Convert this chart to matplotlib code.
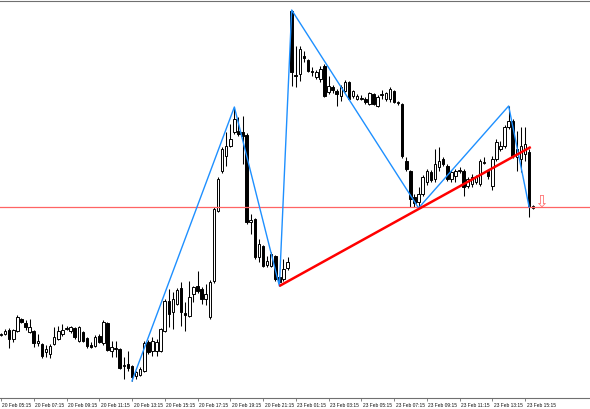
import matplotlib
matplotlib.use("Agg")
import matplotlib.pyplot as plt
import matplotlib.transforms as mtransforms
import numpy as np

# ---- data (prices in pips above 1.1000) ----
opens = [1164,1165,1169,1160,1168,1180,1176,1167,1168,1156,1155,1147,1145,1155,1160,1165,1170,1168,1171,1158,
         1167,1161,1154,1153,1163,1156,1176,1148,1150,1150,1133,1135,1133,1123,1124,1128,1157,1148,1148,1148,
         1168,1198,1187,1195,1211,1186,1183,1205,1213,1210,1200,1182,1218,1288,1328,1343,1353,1367,1368,1367,
         1364,1277,1280,1242,1253,1234,1233,1243,1222,1220,1231,1488,1424,1425,1443,1439,1428,1422,1420,1433,
         1407,1412,1408,1403,1408,1417,1403,1400,1400,1400,1395,1405,1393,1404,1400,1400,1408,1396,1395,1338,
         1328,1302,1297,1305,1317,1327,1320,1332,1340,1333,1320,1323,1328,1328,1313,1315,1317,1315,1336,1328,
         1313,1340,1350,1353,1372,1378,1342,1340,1345,1347,1291]
highs = [1166,1170,1171,1170,1184,1181,1179,1180,1169,1165,1156,1154,1155,1172,1173,1175,1173,1173,1172,1173,
         1168,1162,1157,1164,1165,1179,1177,1158,1158,1151,1142,1148,1134,1128,1132,1158,1159,1162,1160,1171,
         1200,1210,1207,1211,1217,1197,1218,1213,1228,1212,1215,1219,1292,1322,1352,1367,1375,1392,1382,1383,
         1366,1285,1281,1260,1254,1243,1247,1244,1223,1240,1242,1489,1453,1453,1448,1440,1432,1429,1433,1435,
         1423,1414,1410,1414,1419,1418,1409,1405,1404,1402,1407,1406,1404,1409,1407,1412,1409,1398,1396,1342,
         1329,1305,1312,1324,1330,1329,1350,1352,1342,1335,1329,1330,1332,1330,1322,1325,1324,1340,1342,1330,
         1343,1360,1358,1374,1393,1380,1368,1372,1372,1350,1294]
lows = [1163,1164,1151,1157,1167,1176,1169,1166,1152,1153,1141,1142,1141,1154,1159,1163,1169,1166,1160,1157,
        1157,1151,1151,1152,1156,1154,1148,1142,1142,1130,1120,1128,1118,1120,1123,1127,1145,1143,1143,1147,
        1167,1172,1170,1194,1173,1168,1182,1197,1206,1195,1194,1180,1216,1287,1326,1333,1352,1365,1363,1335,
        1275,1265,1240,1237,1232,1232,1232,1218,1213,1218,1229,1413,1412,1418,1437,1427,1423,1420,1417,1402,
        1405,1406,1393,1398,1407,1399,1401,1399,1399,1395,1394,1394,1392,1400,1398,1397,1396,1394,1341,1328,
        1292,1292,1291,1303,1314,1317,1317,1328,1333,1318,1317,1317,1326,1303,1311,1312,1315,1313,1335,1320,
        1309,1338,1348,1351,1370,1341,1328,1327,1338,1282,1290]
closes = [1165,1168,1160,1169,1182,1177,1172,1172,1156,1158,1143,1150,1153,1162,1168,1169,1171,1172,1162,1172,
          1158,1153,1152,1162,1157,1177,1149,1152,1151,1131,1134,1131,1122,1127,1130,1156,1147,1158,1157,1170,
          1198,1185,1200,1209,1187,1184,1202,1212,1208,1200,1205,1217,1290,1320,1350,1353,1360,1380,1365,1363,
          1277,1279,1242,1255,1233,1238,1245,1220,1217,1230,1237,1427,1423,1450,1441,1428,1427,1427,1430,1403,
          1413,1409,1405,1412,1417,1400,1408,1403,1401,1397,1406,1395,1402,1405,1406,1410,1397,1397,1343,1330,
          1300,1296,1305,1322,1328,1319,1335,1338,1335,1320,1327,1328,1329,1312,1320,1322,1322,1338,1337,1323,
          1340,1357,1353,1372,1378,1343,1350,1353,1355,1292,1293]

zigzag_bars = [32, 57, 68, 71, 102, 124, 129]
zigzag_pips = [1118, 1392, 1213, 1489, 1291, 1393, 1292]
trend_bars = [68, 129.4]
trend_pips = [1213, 1352]
hline_pips = 1292
arrow_bar, arrow_pips = 132, 1298

tick_labels = ["20 Feb 05:15", "20 Feb 07:15", "20 Feb 09:15", "20 Feb 11:15", "20 Feb 13:15",
               "20 Feb 15:15", "20 Feb 17:15", "20 Feb 19:15", "20 Feb 21:15", "23 Feb 01:15",
               "23 Feb 03:15", "23 Feb 05:15", "23 Feb 07:15", "23 Feb 09:15", "23 Feb 11:15",
               "23 Feb 13:15", "23 Feb 15:15"]
TICK_EVERY = 8

BASE, PIP = 1.1, 0.0001
def px(v):
    return BASE + np.asarray(v, dtype=float) * PIP

o, h, l, c = px(opens), px(highs), px(lows), px(closes)
x = np.arange(len(o))

fig = plt.figure(figsize=(5.9, 4.1), dpi=100)
ax = fig.add_axes([0, 11 / 410, 1, 397 / 410])
ax.set_xlim(-0.244, 143.87)
ax.set_ylim(px(1101), px(1498))

# wicks
ax.vlines(x, l, h, color="black", linewidth=0.75, zorder=2)
# bodies
up = c >= o
bottom = np.minimum(o, c)
height = np.maximum(np.abs(c - o), 0.00005)
ax.bar(x[up], height[up], bottom=bottom[up], width=0.62, color="white",
       edgecolor="black", linewidth=0.7, zorder=3)
ax.bar(x[~up], height[~up], bottom=bottom[~up], width=0.62, color="black",
       edgecolor="black", linewidth=0.7, zorder=3)

# horizontal level
ax.axhline(px(hline_pips), color="#ff6464", linewidth=0.9, zorder=4)
# zigzag
ax.plot(zigzag_bars, px(zigzag_pips), color="#1e90ff", linewidth=1.0, zorder=5)
# trend line
ax.plot(trend_bars, px(trend_pips), color="#ff0000", linewidth=1.8, zorder=6,
        solid_capstyle="butt")
# arrow
ax.text(arrow_bar, px(arrow_pips), "\u21e9", color="#ff7070", fontsize=12,
        ha="center", va="center", family="DejaVu Sans", zorder=7)

# axes styling
for s in ["left", "right"]:
    ax.spines[s].set_visible(False)
for s in ["top", "bottom"]:
    ax.spines[s].set_color("#707070")
    ax.spines[s].set_linewidth(0.8)
ax.set_yticks([])
ticks = np.arange(0, TICK_EVERY * len(tick_labels), TICK_EVERY)
ax.set_xticks(ticks)
ax.set_xticklabels(tick_labels, fontsize=3.5, family="Liberation Sans", color="#111111")
ax.tick_params(axis="x", direction="out", length=2.4, width=0.6, color="#707070", pad=0.6)
offset = mtransforms.ScaledTranslation(1.5 / 100, 0, fig.dpi_scale_trans)
for lab in ax.get_xticklabels():
    lab.set_horizontalalignment("left")
    lab.set_transform(lab.get_transform() + offset)

fig.savefig("out.png", dpi=100)
